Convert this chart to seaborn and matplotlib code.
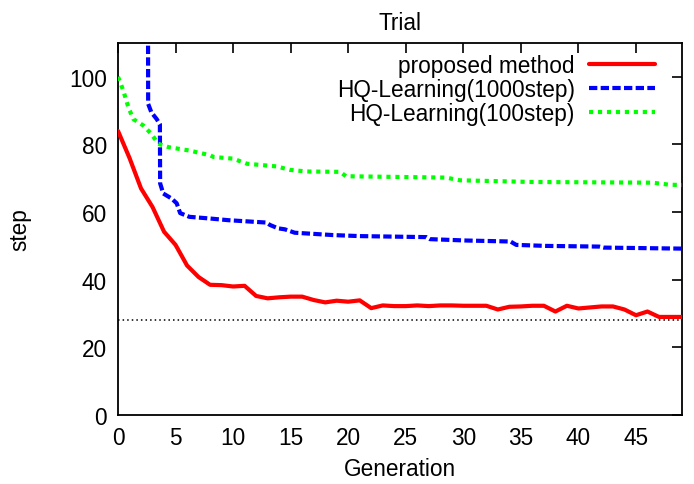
import matplotlib
matplotlib.use("Agg")
import matplotlib.pyplot as plt
import seaborn as sns
import pandas as pd
from matplotlib.lines import Line2D

# ---- data ----
gen_proposed = list(range(0, 50))
step_proposed = [84, 76, 67, 61.5, 54.2, 50.3, 44.2, 40.8, 38.5, 38.4,
                 38.0, 38.2, 35.2, 34.5, 34.8, 35.0, 35.0, 34.0, 33.3, 33.8,
                 33.5, 33.9, 31.6, 32.4, 32.2, 32.2, 32.4, 32.2, 32.4, 32.4,
                 32.3, 32.3, 32.3, 31.2, 32.0, 32.1, 32.3, 32.3, 30.6, 32.3,
                 31.5, 31.8, 32.1, 32.1, 31.2, 29.5, 30.6, 29.0, 29.0, 29.0]

gen_hq1000 = [2.6, 2.62, 2.9, 3.36, 3.64, 3.66, 3.93, 4.66, 5.1, 5.4, 6.2, 8.0,
              9.6, 12.9, 13.2, 13.9, 14.5, 15.35, 18.7, 21.0, 26.8, 27.1, 30.2,
              34.1, 34.6, 37.2, 41.8, 42.2, 49.0]
step_hq1000 = [140, 92, 89.5, 87.5, 86, 68.5, 65.5, 64, 62.6, 59.7, 58.6, 58.1,
               57.6, 56.9, 56.2, 55.2, 54.9, 53.9, 53.2, 52.9, 52.6, 52.0, 51.6,
               51.3, 50.3, 50.0, 49.8, 49.5, 49.2]

gen_hq100 = [0, 0.2, 0.46, 0.9, 1.33, 2.2, 2.9, 3.5, 4.4, 6.2, 8.0, 8.3, 10.0,
             11.2, 13.8, 14.9, 16.4, 19.3, 19.8, 28.5, 29.7, 36.0, 46.4, 47.9, 49.0]
step_hq100 = [100, 98.3, 95.9, 91, 87.5, 85.6, 83.1, 80.2, 79.2, 78.2, 76.8, 76.3,
              75.8, 74.3, 73.5, 72.5, 72, 71.9, 70.6, 70.2, 69.4, 68.9, 68.7, 68.1, 68.0]

reference_step = 28
labels = ["proposed method", "HQ-Learning(1000step)", "HQ-Learning(100step)"]
x_ticks = [0, 5, 10, 15, 20, 25, 30, 35, 40, 45]
y_ticks = [0, 20, 40, 60, 80, 100]

# ---- style ----
sns.set_style("white")
plt.rcParams["font.family"] = ["Liberation Sans", "DejaVu Sans"]
plt.rcParams["text.color"] = "black"
plt.rcParams["axes.labelcolor"] = "black"
plt.rcParams["xtick.color"] = "black"
plt.rcParams["ytick.color"] = "black"
FS = 16.3

fig = plt.figure(figsize=(6.94, 4.85), dpi=100)
ax = fig.add_axes([118 / 694, 1 - 416 / 485, 564 / 694, 372 / 485])

red = "#ff0000"
blue = "#0000ff"
green = "#00ff00"

df_p = pd.DataFrame({"g": gen_proposed, "s": step_proposed})
df_b = pd.DataFrame({"g": gen_hq1000, "s": step_hq1000})
df_g = pd.DataFrame({"g": gen_hq100, "s": step_hq100})

ax.axhline(reference_step, color="black", lw=1.1, ls=(0, (1, 2)), zorder=1)

sns.lineplot(data=df_p, x="g", y="s", ax=ax, color=red, lw=3.0,
             estimator=None, sort=False, zorder=3)
sns.lineplot(data=df_b, x="g", y="s", ax=ax, color=blue, lw=3.0,
             estimator=None, sort=False, zorder=3, dashes=False)
ax.lines[-1].set_dashes([2.0, 0.8])
sns.lineplot(data=df_g, x="g", y="s", ax=ax, color=green, lw=3.0,
             estimator=None, sort=False, zorder=3)
ax.lines[-1].set_dashes([1.0, 1.15])

ax.set_xlim(0, 49)
ax.set_ylim(0, 110)
ax.set_xticks(x_ticks)
ax.set_yticks(y_ticks)
ax.tick_params(direction="in", length=7, width=1.2, top=True, right=True,
               labelsize=FS, pad=8, color="black", labelcolor="black")
for sp in ax.spines.values():
    sp.set_visible(True)
    sp.set_linewidth(1.3)
    sp.set_color("black")

ax.set_xlabel("Generation", fontsize=FS, va="center", color="black")
ax.set_ylabel("step", fontsize=FS, va="center", color="black")
ax.xaxis.set_label_coords(0.5, -0.145)
ax.yaxis.set_label_coords(-0.174, 0.5)
ax.set_title("Trial", fontsize=FS, pad=10, color="black")

handles = [
    Line2D([], [], color=red, lw=3.0),
    Line2D([], [], color=blue, lw=3.0, dashes=[2.0, 0.8]),
    Line2D([], [], color=green, lw=3.0, dashes=[1.0, 1.15]),
]
leg = ax.legend(handles, labels, loc="upper right", bbox_to_anchor=(655 / 694, 1 - 55 / 485),
                bbox_transform=fig.transFigure, frameon=False, markerfirst=False,
                fontsize=FS, handlelength=2.9, handletextpad=0.65, labelspacing=0.05,
                borderpad=0, borderaxespad=0)
for t in leg.get_texts():
    t.set_color("black")

fig.savefig("out.png", dpi=100)
